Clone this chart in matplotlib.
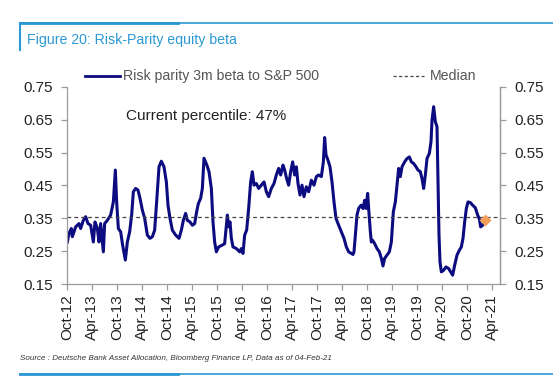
import matplotlib
matplotlib.use("Agg")
import matplotlib.pyplot as plt
from matplotlib.lines import Line2D

plt.rcParams['font.family'] = ['Liberation Sans', 'DejaVu Sans']

# decimal years
dates = [2012.757, 2012.79, 2012.837, 2012.857, 2012.923, 2012.99, 2013.023, 2013.077,
         2013.123, 2013.17, 2013.223, 2013.277, 2013.31, 2013.357, 2013.39, 2013.423,
         2013.477, 2013.503, 2013.557, 2013.623, 2013.677, 2013.717, 2013.743, 2013.777,
         2013.823, 2013.863, 2013.917, 2013.957, 2014.003, 2014.043, 2014.077, 2014.123,
         2014.17, 2014.21, 2014.257, 2014.303, 2014.357, 2014.41, 2014.457, 2014.503,
         2014.543, 2014.59, 2014.637, 2014.69, 2014.737, 2014.77, 2014.81, 2014.857,
         2014.923, 2014.99, 2015.037, 2015.077, 2015.123, 2015.157, 2015.21, 2015.257,
         2015.303, 2015.343, 2015.377, 2015.423, 2015.457, 2015.49, 2015.543, 2015.59,
         2015.62, 2015.637, 2015.67, 2015.703, 2015.737, 2015.783, 2015.85, 2015.903,
         2015.937, 2015.957, 2015.983, 2016.01, 2016.037, 2016.07, 2016.137, 2016.203,
         2016.237, 2016.27, 2016.303, 2016.343, 2016.383, 2016.423, 2016.457, 2016.49,
         2016.537, 2016.583, 2016.637, 2016.69, 2016.737, 2016.783, 2016.837, 2016.89,
         2016.937, 2016.983, 2017.023, 2017.07, 2017.103, 2017.143, 2017.183, 2017.223,
         2017.263, 2017.303, 2017.337, 2017.37, 2017.41, 2017.45, 2017.49, 2017.537,
         2017.583, 2017.637, 2017.69, 2017.737, 2017.783, 2017.837, 2017.877, 2017.903,
         2017.93, 2017.97, 2018.01, 2018.05, 2018.09, 2018.13, 2018.183, 2018.237,
         2018.29, 2018.337, 2018.383, 2018.437, 2018.47, 2018.49, 2018.517, 2018.55,
         2018.583, 2018.63, 2018.67, 2018.703, 2018.73, 2018.763, 2018.783, 2018.817,
         2018.837, 2018.863, 2018.903, 2018.95, 2018.997, 2019.037, 2019.07, 2019.103,
         2019.15, 2019.197, 2019.237, 2019.277, 2019.317, 2019.35, 2019.383, 2019.417,
         2019.45, 2019.503, 2019.55, 2019.597, 2019.637, 2019.683, 2019.73, 2019.77,
         2019.817, 2019.85, 2019.883, 2019.917, 2019.95, 2019.997, 2020.03, 2020.05,
         2020.083, 2020.117, 2020.15, 2020.17, 2020.19, 2020.21, 2020.237, 2020.283,
         2020.33, 2020.383, 2020.423, 2020.463, 2020.503, 2020.55, 2020.597, 2020.637,
         2020.67, 2020.703, 2020.737, 2020.77, 2020.817, 2020.863, 2020.917, 2020.963,
         2020.997, 2021.023, 2021.063, 2021.097]
beta = [0.278, 0.304, 0.319, 0.294, 0.324, 0.334, 0.319, 0.344,
        0.355, 0.334, 0.329, 0.278, 0.339, 0.319, 0.278, 0.334,
        0.248, 0.334, 0.344, 0.360, 0.400, 0.497, 0.400, 0.319,
        0.309, 0.268, 0.223, 0.278, 0.309, 0.360, 0.431, 0.441,
        0.436, 0.411, 0.375, 0.350, 0.299, 0.289, 0.294, 0.314,
        0.400, 0.507, 0.524, 0.507, 0.461, 0.390, 0.350, 0.314,
        0.299, 0.289, 0.314, 0.344, 0.365, 0.344, 0.339, 0.329,
        0.334, 0.370, 0.395, 0.411, 0.441, 0.533, 0.514, 0.492,
        0.460, 0.441, 0.339, 0.278, 0.248, 0.263, 0.268, 0.273,
        0.329, 0.360, 0.324, 0.339, 0.289, 0.263, 0.258, 0.248,
        0.258, 0.243, 0.299, 0.314, 0.380, 0.461, 0.492, 0.451,
        0.456, 0.441, 0.451, 0.461, 0.431, 0.416, 0.441, 0.456,
        0.482, 0.502, 0.482, 0.512, 0.497, 0.471, 0.451, 0.492,
        0.522, 0.482, 0.507, 0.456, 0.421, 0.451, 0.416, 0.446,
        0.431, 0.466, 0.451, 0.477, 0.482, 0.477, 0.522, 0.596,
        0.543, 0.527, 0.507, 0.461, 0.400, 0.350, 0.329, 0.309,
        0.289, 0.263, 0.248, 0.243, 0.240, 0.248, 0.299, 0.360,
        0.380, 0.390, 0.380, 0.405, 0.380, 0.426, 0.380, 0.309,
        0.278, 0.283, 0.273, 0.258, 0.248, 0.228, 0.205, 0.228,
        0.238, 0.248, 0.278, 0.370, 0.400, 0.451, 0.502, 0.477,
        0.507, 0.522, 0.532, 0.537, 0.522, 0.517, 0.507, 0.497,
        0.492, 0.471, 0.441, 0.482, 0.532, 0.548, 0.583, 0.649,
        0.690, 0.644, 0.629, 0.471, 0.299, 0.217, 0.187, 0.192,
        0.202, 0.197, 0.187, 0.177, 0.207, 0.238, 0.253, 0.263,
        0.289, 0.339, 0.380, 0.400, 0.398, 0.390, 0.382, 0.360,
        0.348, 0.324, 0.329, 0.339]

median = 0.355
current_date = 2021.11
current_beta = 0.345

tick_years = [2012.75 + 0.5 * i for i in range(18)]
tick_labels = []
for i in range(18):
    yr = 12 + (i + 1) // 2
    tick_labels.append(("Oct-" if i % 2 == 0 else "Apr-") + str(yr))
y_ticks = [0.15, 0.25, 0.35, 0.45, 0.55, 0.65, 0.75]

navy = '#0c0c80'
grey = '#9a9a9a'
blue = '#2b98d3'

fig = plt.figure(figsize=(5.53, 3.81), dpi=100)
ax = fig.add_axes([67/553, 1 - 284/381, 433/553, 197/381])

ax.plot(dates, beta, color=navy, lw=2.2, solid_joinstyle='round')
ax.axhline(median, color='#444444', lw=0.9, ls=(0, (3, 2.5)))
ax.plot([current_date], [current_beta], marker='D', color='#f5a05a', ms=6, mec='none')

ax.set_xlim(2012.75, 2021.41)
ax.set_ylim(0.15, 0.75)
ax.set_yticks(y_ticks)
ax.set_yticklabels(["%.2f" % v for v in y_ticks])
ax.set_xticks(tick_years)
ax.set_xticklabels(tick_labels, rotation=90)

ax.spines['top'].set_visible(False)
for s in ['left', 'bottom', 'right']:
    ax.spines[s].set_color(grey)
    ax.spines[s].set_linewidth(0.9)
ax.tick_params(axis='both', colors=grey, labelcolor='#222222', labelsize=11, length=4, width=0.9)
ax.tick_params(axis='y', pad=6)

ax2 = ax.twinx()
ax2.set_ylim(0.15, 0.75)
ax2.set_yticks(y_ticks)
ax2.set_yticklabels(["%.2f" % v for v in y_ticks])
for s in ['top', 'left', 'bottom']:
    ax2.spines[s].set_visible(False)
ax2.spines['right'].set_color(grey)
ax2.spines['right'].set_linewidth(0.9)
ax2.tick_params(axis='y', colors=grey, labelcolor='#222222', labelsize=11, length=4, width=0.9, pad=6)

ax.text(0.137, 0.835, "Current percentile: 47%", transform=ax.transAxes, fontsize=11, color='#222222')

# legend drawn by hand to match the layout
fig.add_artist(Line2D([85/553, 120/553], [1 - 76/381, 1 - 76/381], color=navy, lw=2))
fig.text(123/553, 1 - 76/381, "Risk parity 3m beta to S&P 500", fontsize=10.2, color='#555555', va='center')
fig.add_artist(Line2D([393/553, 424/553], [1 - 76/381, 1 - 76/381], color='#444444', lw=0.9, ls=(0, (2.5, 2))))
fig.text(430/553, 1 - 76/381, "Median", fontsize=10.2, color='#555555', va='center')

# frame lines and title
fig.add_artist(Line2D([20/553, 1], [1 - 23/381, 1 - 23/381], color=blue, lw=1.2))
fig.add_artist(Line2D([20/553, 178/553], [1 - 23/381, 1 - 23/381], color=blue, lw=2))
fig.add_artist(Line2D([20/553, 20/553], [1 - 23/381, 1 - 50/381], color=blue, lw=1.5))
fig.text(27/553, 1 - 40/381, "Figure 20: Risk-Parity equity beta", fontsize=10.2, color=blue, va='center')

fig.text(20/553, 1 - 359/381, "Source : Deutsche Bank Asset Allocation, Bloomberg Finance LP, Data as of 04-Feb-21",
         fontsize=5.8, style='italic', color='#333333', va='center')
fig.add_artist(Line2D([20/553, 1], [1 - 374/381, 1 - 374/381], color=blue, lw=1.2))
fig.add_artist(Line2D([20/553, 178/553], [1 - 374/381, 1 - 374/381], color=blue, lw=2))

fig.savefig("out.png", dpi=100)
